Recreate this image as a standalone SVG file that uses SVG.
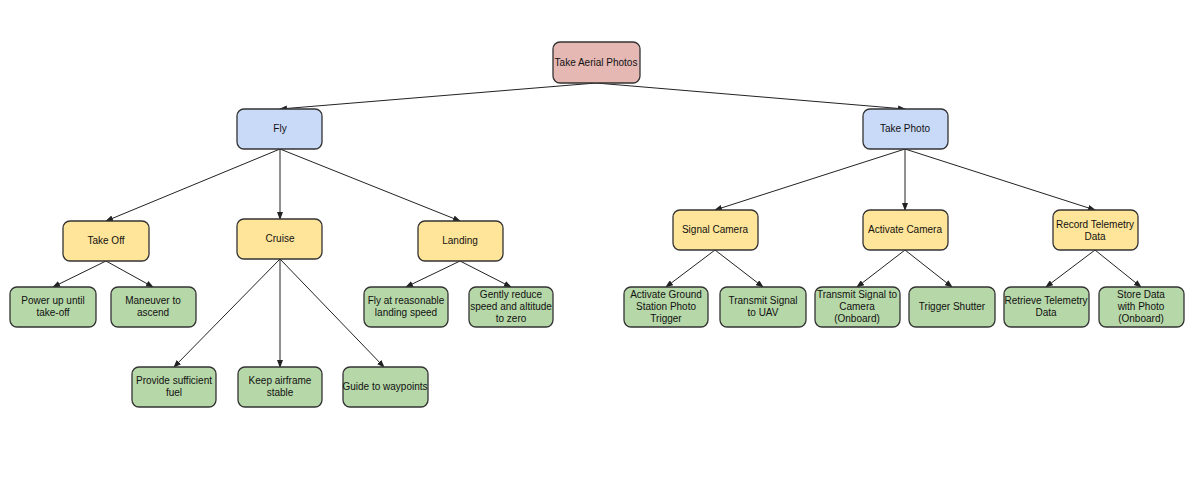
<svg xmlns="http://www.w3.org/2000/svg" width="1200" height="483" viewBox="0 0 1200 483">
<style>
rect{stroke:#333;stroke-width:1.3}
.r{fill:#e6b8b4}.b{fill:#c9daf8}.y{fill:#ffe599}.g{fill:#b6d7a8}
text{font-family:"Liberation Sans",Arial,sans-serif;font-size:10px;fill:#111;text-anchor:middle}
#edges line{stroke:#222;stroke-width:1;marker-end:url(#a)}
</style>
<defs><marker id="a" markerWidth="8" markerHeight="6" refX="7" refY="3" orient="auto" markerUnits="userSpaceOnUse"><path d="M0,0 L8,3 L0,6 z" fill="#222"/></marker></defs>
<rect width="1200" height="483" fill="#fff" style="stroke:none"/>
<g id="edges">
<line x1="596" y1="83" x2="280" y2="109"/>
<line x1="596" y1="83" x2="905" y2="109"/>
<line x1="280" y1="149" x2="106" y2="221"/>
<line x1="280" y1="149" x2="280" y2="219"/>
<line x1="280" y1="149" x2="460" y2="221"/>
<line x1="905" y1="149" x2="715" y2="210"/>
<line x1="905" y1="149" x2="905" y2="210"/>
<line x1="905" y1="149" x2="1095" y2="210"/>
<line x1="106" y1="261" x2="53" y2="287"/>
<line x1="106" y1="261" x2="153" y2="287"/>
<line x1="280" y1="259" x2="174" y2="367"/>
<line x1="280" y1="259" x2="280" y2="367"/>
<line x1="280" y1="259" x2="384" y2="367"/>
<line x1="460" y1="261" x2="406" y2="287"/>
<line x1="460" y1="261" x2="511" y2="287"/>
<line x1="715" y1="250" x2="666" y2="287"/>
<line x1="715" y1="250" x2="763" y2="287"/>
<line x1="905" y1="250" x2="857" y2="287"/>
<line x1="905" y1="250" x2="952" y2="287"/>
<line x1="1095" y1="250" x2="1046" y2="287"/>
<line x1="1095" y1="250" x2="1141" y2="287"/>
</g>
<g id="root"><rect class="r" x="553" y="42" width="87" height="41" rx="7"/><text x="596" y="66">Take Aerial Photos</text></g>
<g id="fly"><rect class="b" x="237" y="109" width="85" height="40" rx="7"/><text x="280" y="132">Fly</text></g>
<g id="takephoto"><rect class="b" x="863" y="109" width="85" height="40" rx="7"/><text x="905" y="132">Take Photo</text></g>
<g id="takeoff"><rect class="y" x="63" y="221" width="86" height="40" rx="7"/><text x="106" y="244">Take Off</text></g>
<g id="cruise"><rect class="y" x="237" y="219" width="85" height="40" rx="7"/><text x="280" y="242">Cruise</text></g>
<g id="landing"><rect class="y" x="418" y="221" width="85" height="40" rx="7"/><text x="460" y="244">Landing</text></g>
<g id="signal"><rect class="y" x="673" y="210" width="85" height="40" rx="7"/><text x="715" y="233">Signal Camera</text></g>
<g id="activate"><rect class="y" x="863" y="210" width="85" height="40" rx="7"/><text x="905" y="233">Activate Camera</text></g>
<g id="record"><rect class="y" x="1053" y="210" width="85" height="40" rx="7"/><text x="1095" y="228">Record Telemetry</text><text x="1095" y="240">Data</text></g>
<g id="powerup"><rect class="g" x="10" y="287" width="86" height="40" rx="7"/><text x="53" y="304">Power up until</text><text x="53" y="316">take-off</text></g>
<g id="maneuver"><rect class="g" x="111" y="287" width="85" height="40" rx="7"/><text x="153" y="304">Maneuver to</text><text x="153" y="316">ascend</text></g>
<g id="flyat"><rect class="g" x="364" y="287" width="84" height="40" rx="7"/><text x="406" y="304">Fly at reasonable</text><text x="406" y="316">landing speed</text></g>
<g id="gently"><rect class="g" x="469" y="287" width="84" height="40" rx="7"/><text x="511" y="298">Gently reduce</text><text x="511" y="310">speed and altitude</text><text x="511" y="322">to zero</text></g>
<g id="fuel"><rect class="g" x="132" y="367" width="84" height="40" rx="7"/><text x="174" y="384">Provide sufficient</text><text x="174" y="396">fuel</text></g>
<g id="keep"><rect class="g" x="238" y="367" width="84" height="40" rx="7"/><text x="280" y="384">Keep airframe</text><text x="280" y="396">stable</text></g>
<g id="guide"><rect class="g" x="343" y="367" width="85" height="40" rx="7"/><text x="385" y="390">Guide to waypoints</text></g>
<g id="ground"><rect class="g" x="624" y="287" width="84" height="40" rx="7"/><text x="666" y="298">Activate Ground</text><text x="666" y="310">Station Photo</text><text x="666" y="322">Trigger</text></g>
<g id="uav"><rect class="g" x="720" y="287" width="86" height="40" rx="7"/><text x="763" y="304">Transmit Signal</text><text x="763" y="316">to UAV</text></g>
<g id="tocam"><rect class="g" x="815" y="287" width="85" height="40" rx="7"/><text x="857" y="298">Transmit Signal to</text><text x="857" y="310">Camera</text><text x="857" y="322">(Onboard)</text></g>
<g id="shutter"><rect class="g" x="909" y="287" width="86" height="40" rx="7"/><text x="952" y="310">Trigger Shutter</text></g>
<g id="retrieve"><rect class="g" x="1004" y="287" width="85" height="40" rx="7"/><text x="1046" y="304">Retrieve Telemetry</text><text x="1046" y="316">Data</text></g>
<g id="store"><rect class="g" x="1099" y="287" width="85" height="40" rx="7"/><text x="1141" y="298">Store Data</text><text x="1141" y="310">with Photo</text><text x="1141" y="322">(Onboard)</text></g>
</svg>
